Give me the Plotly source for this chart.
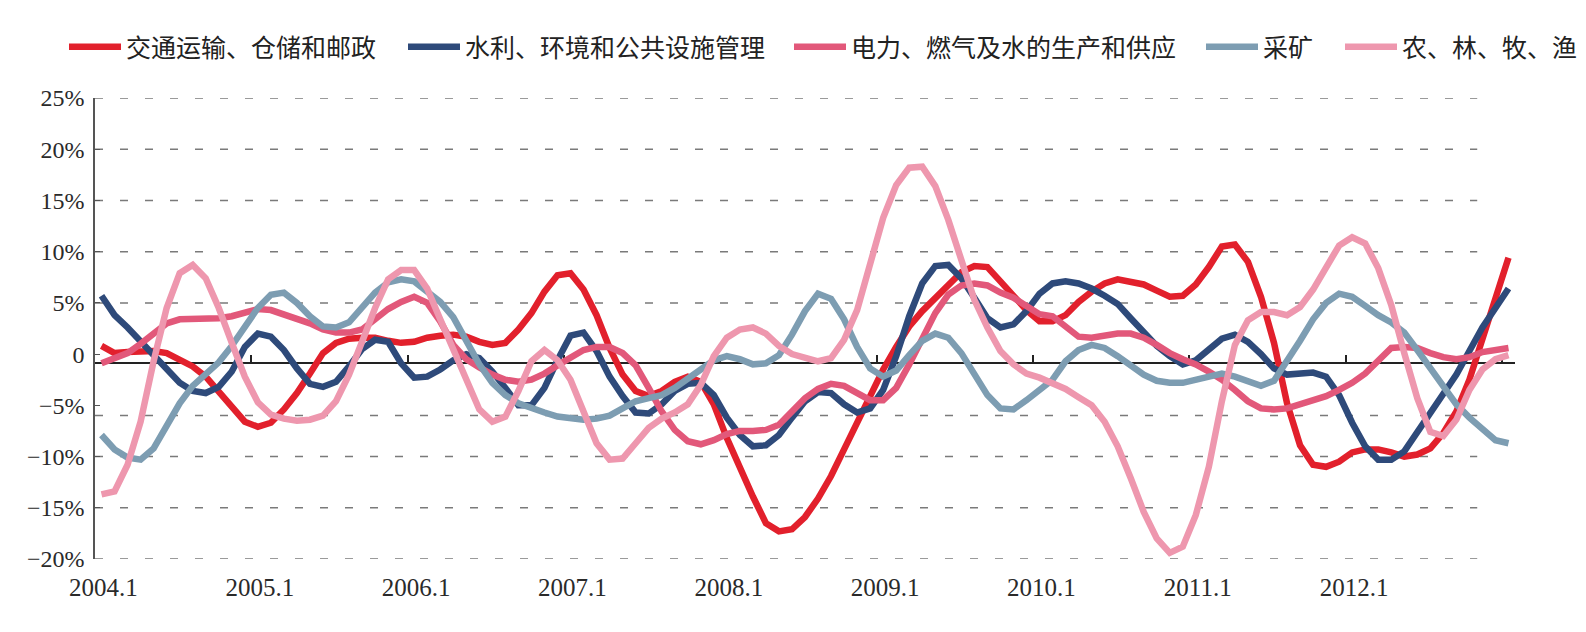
import plotly.graph_objects as go

# ---------------- data (monthly, 2004.1 - 2013.1) ----------------
x_tick_labels = ["2004.1", "2005.1", "2006.1", "2007.1", "2008.1",
                 "2009.1", "2010.1", "2011.1", "2012.1"]
y_tick_vals = [-20, -15, -10, -5, 0, 5, 10, 15, 20, 25]
y_tick_text = ["−20%", "−15%", "−10%", "−5%", "0", "5%", "10%", "15%", "20%", "25%"]
grid_levels = [25, 20, 15, 10, 5, -6, -10, -15, -20]
base_level = -0.82

series_names = ["交通运输、仓储和邮政", "水利、环境和公共设施管理",
                "电力、燃气及水的生产和供应", "采矿", "农、林、牧、渔"]
series_colors = ["#E2202C", "#2E4A7A", "#E2587A", "#7D9DB2", "#EE97AE"]

transport = [0.8, 0.1, 0.2, 0.3, 0.3, 0.1, -0.6, -1.2, -2.2, -3.6, -5.1, -6.6, -7.1, -6.7, -5.4, -3.8,
             -1.9, 0.1, 1.1, 1.5, 1.6, 1.6, 1.3, 1.1, 1.2, 1.6, 1.8, 1.9, 1.7, 1.2, 0.9, 1.1, 2.4, 4.0,
             6.1, 7.7, 7.9,
             6.3, 3.8, 0.6, -2.0, -3.6, -4.1, -3.6, -2.7, -2.2, -2.7, -4.9, -8.2, -11.1, -13.9, -16.5,
             -17.3, -17.1, -15.9, -14.1, -11.9, -9.3, -6.7, -4.1, -1.5, 0.7, 2.7, 4.2, 5.5, 6.8, 8.0,
             8.6, 8.5, 7.1, 5.6, 4.3, 3.2,
             3.2, 3.8, 5.1, 6.1, 6.9, 7.3, 7.1, 6.8, 6.2, 5.6, 5.7, 6.8, 8.5, 10.5, 10.7, 9.0, 5.6,
             1.1, -4.8, -8.9, -10.8, -11.0, -10.5, -9.6, -9.3, -9.3, -9.6, -10.0, -9.8, -9.2, -7.7,
             -5.6, -2.5, 1.6, 5.6, 9.4]
water = [5.7, 3.8, 2.6, 1.2, -0.2, -1.5, -2.8, -3.6, -3.8, -3.2, -1.7, 0.7, 2.0, 1.7, 0.4, -1.4,
         -2.9, -3.2, -2.7, -1.2, 0.5, 1.4, 1.2, -0.9, -2.3, -2.2, -1.5, -0.6, 0.0, -0.4, -1.7, -3.3,
         -5.0, -5.0, -3.3, -0.6, 1.8,
         2.1, 0.3, -2.2, -4.1, -5.7, -5.8, -4.9, -3.6, -2.9, -2.8, -4.0, -6.2, -7.9, -9.0, -8.9,
         -7.9, -6.2, -4.6, -3.7, -3.8, -4.9, -5.7, -5.3, -3.5, -0.2, 3.7, 6.9, 8.6, 8.7, 7.4, 5.5,
         3.5, 2.6, 2.9, 4.2, 5.9,
         6.9, 7.1, 6.9, 6.4, 5.7, 4.9, 3.5, 2.1, 0.8, -0.2, -1.0, -0.6, 0.4, 1.5, 1.9, 1.2, 0.0,
         -1.4, -2.0, -1.9, -1.8, -2.2, -4.0, -6.7, -9.0, -10.3, -10.3, -9.5, -7.6, -5.8, -4.0,
         -2.0, 0.3, 2.6, 4.5, 6.4]
power = [-0.9, -0.4, 0.1, 1.0, 2.1, 3.0, 3.4, 3.4, 3.4, 3.5, 3.7, 4.1, 4.4, 4.3, 3.9, 3.5, 3.0,
         2.4, 2.1, 2.1, 2.4, 3.4, 4.4, 5.1, 5.6, 5.0, 3.2, 0.9, -0.5, -1.3, -2.0, -2.5, -2.7, -2.5,
         -1.9, -1.1, -0.3,
         0.4, 0.7, 0.7, 0.1, -1.1, -3.3, -5.6, -7.4, -8.5, -8.8, -8.4, -7.8, -7.5, -7.5, -7.4,
         -6.9, -5.6, -4.3, -3.4, -2.9, -3.1, -3.8, -4.5, -4.5, -3.3, -1.0, 1.6, 4.0, 5.8, 6.7, 6.9,
         6.7, 6.0, 5.5, 4.7, 3.9,
         3.7, 2.7, 1.7, 1.6, 1.8, 2.0, 2.0, 1.6, 0.9, 0.1, -0.5, -1.0, -1.7, -2.5, -3.5, -4.6,
         -5.3, -5.4, -5.3, -4.9, -4.5, -4.1, -3.5, -2.8, -1.9, -0.6, 0.6, 0.7, 0.6, 0.1, -0.3,
         -0.5, -0.3, 0.2, 0.4, 0.6]
mining = [-7.9, -9.3, -10.1, -10.3, -9.2, -7.1, -4.8, -3.1, -1.9, -0.8, 0.8, 2.6, 4.5, 5.8, 6.0,
          5.0, 3.7, 2.7, 2.6, 3.1, 4.5, 6.0, 7.0, 7.3, 7.1, 6.1, 5.1, 3.6, 1.3, -1.0, -2.8, -4.0,
          -4.8, -5.3, -5.7, -6.1, -6.3,
          -6.4, -6.3, -6.0, -5.3, -4.6, -4.3, -4.0, -3.3, -2.4, -1.5, -0.6, -0.2, -0.5, -1.0, -0.9,
          -0.1, 1.9, 4.2, 5.9, 5.4, 3.4, 0.7, -1.4, -2.2, -1.6, -0.1, 1.3, 2.0, 1.6, 0.1, -2.0,
          -4.0, -5.3, -5.4, -4.5, -3.5,
          -2.5, -0.7, 0.4, 0.9, 0.6, -0.2, -1.2, -2.0, -2.6, -2.8, -2.8, -2.5, -2.1, -1.9, -2.2,
          -2.7, -3.1, -2.6, -0.7, 1.3, 3.4, 5.0, 5.9, 5.6, 4.7, 3.8, 3.1, 2.1, 0.4, -1.4, -3.2,
          -4.9, -6.2, -7.2, -8.4, -8.7]
agri = [-13.7, -13.4, -10.8, -6.6, -0.7, 4.5, 7.9, 8.7, 7.4, 4.5, 1.1, -2.2, -4.7, -5.9, -6.3,
        -6.5, -6.4, -6.0, -4.6, -2.0, 1.2, 4.5, 7.3, 8.2, 8.2, 6.4, 3.4, 0.4, -2.8, -5.4, -6.6,
        -6.1, -3.6, -0.7, 0.4, -0.6, -2.5,
        -5.5, -8.7, -10.3, -10.2, -8.7, -7.2, -6.3, -5.7, -4.9, -3.0, -0.2, 1.6, 2.4, 2.6, 2.0,
        0.8, 0.0, -0.3, -0.7, -0.4, 1.4, 4.3, 8.9, 13.3, 16.5, 18.2, 18.3, 16.4, 13.1, 9.0, 5.3,
        2.6, 0.3, -1.0, -1.9, -2.3,
        -2.8, -3.4, -4.2, -5.0, -6.6, -9.0, -12.1, -15.4, -18.0, -19.4, -18.8, -15.7, -11.0,
        -4.6, 0.9, 3.3, 4.1, 4.1, 3.8, 4.6, 6.3, 8.6, 10.6, 11.4, 10.8, 8.4, 4.8, 0.1, -4.3,
        -7.6, -8.0, -6.4, -3.5, -1.5, -0.5, -0.1]

all_series = [transport, water, power, mining, agri]
n = len(transport)
x_idx = list(range(n))
legend_x_px = [64, 403, 789, 1201, 1340]

W, H = 1586, 632
serif = "Liberation Serif, Times New Roman, serif"
legend_font = "Liberation Serif, Noto Sans CJK SC, serif"

fig = go.Figure()
for k, (name, vals, col) in enumerate(zip(series_names, all_series, series_colors)):
    fig.add_trace(go.Scatter(
        x=x_idx, y=vals, name=name, mode="lines",
        line=dict(color=col, width=6.5),
        legend="legend" if k == 0 else f"legend{k+1}",
    ))

# helper trace for the baseline axis
fig.add_trace(go.Scatter(x=[0, n - 1], y=[None, None], xaxis="x2", mode="lines",
                         showlegend=False, hoverinfo="skip"))

shapes = []
for lv in grid_levels:
    shapes.append(dict(type="line", xref="x", yref="y", x0=-0.5, x1=105.6, y0=lv, y1=lv,
                       line=dict(color="#7a7a7a", width=1.5, dash="8px,17px"), layer="below"))

layout = dict(
    width=W, height=H,
    paper_bgcolor="white", plot_bgcolor="white",
    margin=dict(l=95, r=71, t=98, b=73, autoexpand=False),
    showlegend=True,
    shapes=shapes,
    xaxis=dict(range=[-0.5, n - 0.5], showline=False, showgrid=False, zeroline=False,
               ticks="", tickvals=[12 * k + 0.15 for k in range(len(x_tick_labels))],
               ticktext=x_tick_labels, ticklabelstandoff=11,
               tickfont=dict(family=serif, size=25, color="#2a2a2a")),
    xaxis2=dict(overlaying="x", anchor="free", position=(base_level + 20) / 45, side="bottom",
                range=[-0.5, n - 0.5], showline=True, linecolor="#222", linewidth=1.5,
                ticks="inside", ticklen=7, tickwidth=1.5, tickcolor="#222",
                tickvals=[12 * k - 0.5 for k in range(1, 10)], showticklabels=False,
                showgrid=False, zeroline=False, layer="below traces"),
    yaxis=dict(range=[-20, 25], tickvals=y_tick_vals, ticktext=y_tick_text,
               showline=True, linecolor="#555", linewidth=1.5, ticks="inside", ticklen=5,
               tickcolor="#555", showgrid=False, zeroline=False, ticklabelstandoff=4,
               tickfont=dict(family=serif, size=24, color="#2a2a2a")),
)
for k in range(len(series_names)):
    key = "legend" if k == 0 else f"legend{k+1}"
    layout[key] = dict(orientation="h", xref="container", yref="container",
                       x=legend_x_px[k] / W, y=1 - 47 / H, xanchor="left", yanchor="middle",
                       itemwidth=52, bgcolor="rgba(0,0,0,0)", borderwidth=0,
                       font=dict(family=legend_font, size=25, color="#222"))
fig.update_layout(**layout)

fig.write_html("out.html")
